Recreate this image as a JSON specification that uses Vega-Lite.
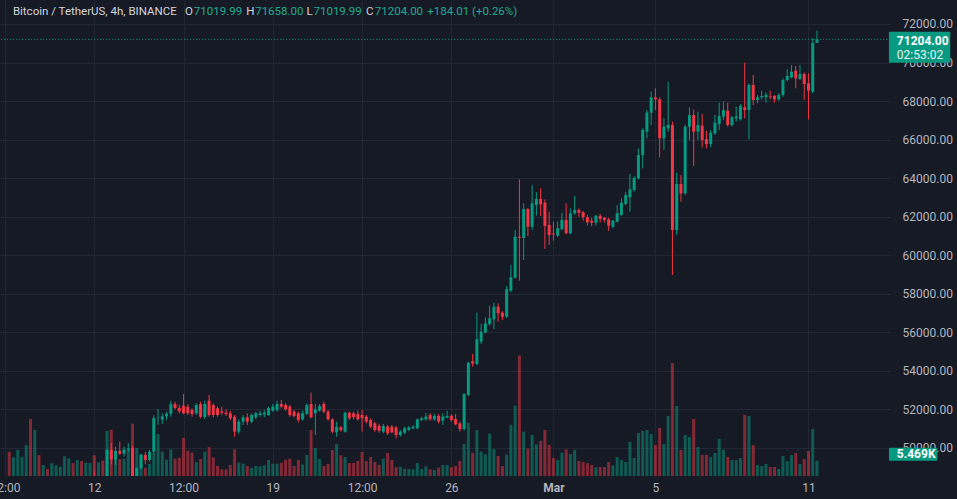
{
  "$schema": "https://vega.github.io/schema/vega-lite/v6.json",
  "width": 890,
  "height": 476,
  "autosize": {"type": "none"},
  "padding": {"left": 0, "top": 0, "right": 67, "bottom": 23},
  "background": "#161a25",
  "config": {"view": {"stroke": null}, "font": "Roboto"},
  "data": {"values": [
{"time":"2024-02-08T16:00","open":46100,"high":46250,"low":45650,"close":45800,"volume":8686},
{"time":"2024-02-08T20:00","open":45800,"high":46300,"low":45700,"close":46200,"volume":6684},
{"time":"2024-02-09T00:00","open":46200,"high":46900,"low":46100,"close":46800,"volume":9294},
{"time":"2024-02-09T04:00","open":46800,"high":47000,"low":46500,"close":46900,"volume":6899},
{"time":"2024-02-09T08:00","open":46900,"high":47600,"low":46800,"close":47500,"volume":11081},
{"time":"2024-02-09T12:00","open":47500,"high":48200,"low":46800,"close":47100,"volume":20375},
{"time":"2024-02-09T16:00","open":47100,"high":47800,"low":46900,"close":47600,"volume":16443},
{"time":"2024-02-09T20:00","open":47600,"high":47700,"low":47200,"close":47300,"volume":7399},
{"time":"2024-02-10T00:00","open":47300,"high":47600,"low":47200,"close":47500,"volume":3932},
{"time":"2024-02-10T04:00","open":47500,"high":47550,"low":47250,"close":47350,"volume":2502},
{"time":"2024-02-10T08:00","open":47350,"high":47700,"low":47300,"close":47600,"volume":4540},
{"time":"2024-02-10T12:00","open":47600,"high":47900,"low":47500,"close":47800,"volume":3825},
{"time":"2024-02-10T16:00","open":47800,"high":48000,"low":47650,"close":47900,"volume":3324},
{"time":"2024-02-10T20:00","open":47900,"high":48300,"low":47800,"close":48150,"volume":7042},
{"time":"2024-02-11T00:00","open":48150,"high":48450,"low":48000,"close":48300,"volume":6327},
{"time":"2024-02-11T04:00","open":48300,"high":48400,"low":47900,"close":48000,"volume":4647},
{"time":"2024-02-11T08:00","open":48000,"high":48350,"low":47900,"close":48250,"volume":5719},
{"time":"2024-02-11T12:00","open":48250,"high":48400,"low":47800,"close":47900,"volume":5362},
{"time":"2024-02-11T16:00","open":47900,"high":48200,"low":47700,"close":48100,"volume":4754},
{"time":"2024-02-11T20:00","open":48100,"high":48450,"low":48000,"close":48350,"volume":4647},
{"time":"2024-02-12T00:00","open":48350,"high":48780,"low":47700,"close":47950,"volume":7399},
{"time":"2024-02-12T04:00","open":47950,"high":48450,"low":47900,"close":48400,"volume":4897},
{"time":"2024-02-12T08:00","open":48400,"high":48500,"low":48100,"close":48300,"volume":5469},
{"time":"2024-02-12T12:00","open":48300,"high":49950,"low":48250,"close":49900,"volume":16193},
{"time":"2024-02-12T16:00","open":49900,"high":50250,"low":49150,"close":49400,"volume":16443},
{"time":"2024-02-12T20:00","open":49400,"high":50070,"low":49120,"close":49850,"volume":8937},
{"time":"2024-02-13T00:00","open":49850,"high":50330,"low":49640,"close":49700,"volume":6077},
{"time":"2024-02-13T04:00","open":49700,"high":50070,"low":49550,"close":49930,"volume":6184},
{"time":"2024-02-13T08:00","open":49930,"high":50250,"low":49800,"close":49990,"volume":9651},
{"time":"2024-02-13T12:00","open":49990,"high":50100,"low":48300,"close":48500,"volume":18695},
{"time":"2024-02-13T16:00","open":48500,"high":48980,"low":48350,"close":48950,"volume":10009},
{"time":"2024-02-13T20:00","open":48950,"high":49700,"low":48900,"close":49640,"volume":7757},
{"time":"2024-02-14T00:00","open":49640,"high":49800,"low":49150,"close":49380,"volume":2967},
{"time":"2024-02-14T04:00","open":49380,"high":49900,"low":49300,"close":49810,"volume":4397},
{"time":"2024-02-14T08:00","open":49810,"high":51700,"low":49700,"close":51556,"volume":8222},
{"time":"2024-02-14T12:00","open":51556,"high":52025,"low":51200,"close":51580,"volume":15013},
{"time":"2024-02-14T16:00","open":51480,"high":51800,"low":51250,"close":51640,"volume":8686},
{"time":"2024-02-14T20:00","open":51640,"high":51880,"low":51450,"close":51780,"volume":5827},
{"time":"2024-02-15T00:00","open":51780,"high":52450,"low":51620,"close":52280,"volume":9544},
{"time":"2024-02-15T04:00","open":52280,"high":52400,"low":52000,"close":52080,"volume":6184},
{"time":"2024-02-15T08:00","open":52080,"high":52250,"low":51800,"close":51900,"volume":6542},
{"time":"2024-02-15T12:00","open":52200,"high":52800,"low":51750,"close":51800,"volume":13583},
{"time":"2024-02-15T16:00","open":52145,"high":52283,"low":51713,"close":51799,"volume":9044},
{"time":"2024-02-15T20:00","open":51972,"high":52058,"low":51626,"close":51764,"volume":8329},
{"time":"2024-02-16T00:00","open":51799,"high":52318,"low":51713,"close":52232,"volume":5004},
{"time":"2024-02-16T04:00","open":52283,"high":52400,"low":51540,"close":51626,"volume":6077},
{"time":"2024-02-16T08:00","open":51600,"high":52456,"low":51500,"close":52283,"volume":8686},
{"time":"2024-02-16T12:00","open":52456,"high":52750,"low":51626,"close":51713,"volume":10366},
{"time":"2024-02-16T16:00","open":52232,"high":52318,"low":51590,"close":51713,"volume":6684},
{"time":"2024-02-16T20:00","open":52058,"high":52145,"low":51626,"close":51713,"volume":3575},
{"time":"2024-02-17T00:00","open":51907,"high":52145,"low":51713,"close":51834,"volume":2395},
{"time":"2024-02-17T04:00","open":51838,"high":52007,"low":51660,"close":51764,"volume":2395},
{"time":"2024-02-17T08:00","open":51800,"high":51937,"low":51453,"close":51540,"volume":3932},
{"time":"2024-02-17T12:00","open":51626,"high":51713,"low":50588,"close":50848,"volume":9544},
{"time":"2024-02-17T16:00","open":50848,"high":51488,"low":50727,"close":51367,"volume":4754},
{"time":"2024-02-17T20:00","open":51367,"high":51713,"low":51194,"close":51592,"volume":4397},
{"time":"2024-02-18T00:00","open":51592,"high":51799,"low":51194,"close":51367,"volume":3575},
{"time":"2024-02-18T04:00","open":51367,"high":51799,"low":51280,"close":51713,"volume":2860},
{"time":"2024-02-18T08:00","open":51600,"high":51885,"low":51488,"close":51799,"volume":3575},
{"time":"2024-02-18T12:00","open":51713,"high":51937,"low":51626,"close":51799,"volume":3467},
{"time":"2024-02-18T16:00","open":51730,"high":51972,"low":51592,"close":51833,"volume":3825},
{"time":"2024-02-18T20:00","open":51713,"high":52145,"low":51660,"close":52076,"volume":5719},
{"time":"2024-02-19T00:00","open":51937,"high":52283,"low":51868,"close":52145,"volume":4397},
{"time":"2024-02-19T04:00","open":51972,"high":52456,"low":51885,"close":52283,"volume":4397},
{"time":"2024-02-19T08:00","open":52283,"high":52491,"low":52058,"close":52145,"volume":4754},
{"time":"2024-02-19T12:00","open":52232,"high":52318,"low":51937,"close":52007,"volume":5827},
{"time":"2024-02-19T16:00","open":52145,"high":52232,"low":51626,"close":51713,"volume":6184},
{"time":"2024-02-19T20:00","open":51885,"high":51972,"low":51592,"close":51660,"volume":3575},
{"time":"2024-02-20T00:00","open":51799,"high":51885,"low":51315,"close":51453,"volume":5719},
{"time":"2024-02-20T04:00","open":51488,"high":51937,"low":51418,"close":51799,"volume":4111},
{"time":"2024-02-20T08:00","open":51764,"high":52318,"low":51713,"close":52232,"volume":7507},
{"time":"2024-02-20T12:00","open":52283,"high":52872,"low":51540,"close":51592,"volume":16443},
{"time":"2024-02-20T16:00","open":51799,"high":52283,"low":50675,"close":52007,"volume":10009},
{"time":"2024-02-20T20:00","open":51937,"high":52283,"low":51885,"close":52180,"volume":6077},
{"time":"2024-02-21T00:00","open":52283,"high":52405,"low":51799,"close":51886,"volume":3575},
{"time":"2024-02-21T04:00","open":51886,"high":51972,"low":51418,"close":51488,"volume":4290},
{"time":"2024-02-21T08:00","open":51488,"high":51540,"low":50761,"close":50848,"volume":9294},
{"time":"2024-02-21T12:00","open":50813,"high":51367,"low":50588,"close":51107,"volume":11439},
{"time":"2024-02-21T16:00","open":51073,"high":51142,"low":50848,"close":50934,"volume":7399},
{"time":"2024-02-21T20:00","open":50848,"high":51885,"low":50796,"close":51833,"volume":6792},
{"time":"2024-02-22T00:00","open":51833,"high":51885,"low":51453,"close":51540,"volume":4647},
{"time":"2024-02-22T04:00","open":51799,"high":51885,"low":51488,"close":51592,"volume":4647},
{"time":"2024-02-22T08:00","open":51760,"high":51937,"low":51418,"close":51488,"volume":5362},
{"time":"2024-02-22T12:00","open":51713,"high":51972,"low":50848,"close":51540,"volume":8579},
{"time":"2024-02-22T16:00","open":51626,"high":51713,"low":51280,"close":51367,"volume":5362},
{"time":"2024-02-22T20:00","open":51453,"high":51540,"low":51021,"close":51107,"volume":6792},
{"time":"2024-02-23T00:00","open":51280,"high":51367,"low":50848,"close":50934,"volume":5004},
{"time":"2024-02-23T04:00","open":51142,"high":51246,"low":50796,"close":50900,"volume":3932},
{"time":"2024-02-23T08:00","open":50848,"high":51246,"low":50761,"close":51142,"volume":6184},
{"time":"2024-02-23T12:00","open":51107,"high":51194,"low":50675,"close":50761,"volume":8222},
{"time":"2024-02-23T16:00","open":51107,"high":51194,"low":50761,"close":50813,"volume":5719},
{"time":"2024-02-23T20:00","open":51056,"high":51142,"low":50502,"close":50675,"volume":3110},
{"time":"2024-02-24T00:00","open":50675,"high":50934,"low":50588,"close":50848,"volume":3324},
{"time":"2024-02-24T04:00","open":50796,"high":51107,"low":50727,"close":51021,"volume":2609},
{"time":"2024-02-24T08:00","open":50934,"high":51142,"low":50865,"close":51073,"volume":2502},
{"time":"2024-02-24T12:00","open":51021,"high":51194,"low":50969,"close":51107,"volume":2395},
{"time":"2024-02-24T16:00","open":51021,"high":51540,"low":50969,"close":51488,"volume":4647},
{"time":"2024-02-24T20:00","open":51453,"high":51626,"low":51384,"close":51540,"volume":2502},
{"time":"2024-02-25T00:00","open":51488,"high":51799,"low":51418,"close":51626,"volume":3467},
{"time":"2024-02-25T04:00","open":51713,"high":51799,"low":51418,"close":51488,"volume":2395},
{"time":"2024-02-25T08:00","open":51488,"high":51764,"low":51418,"close":51660,"volume":2145},
{"time":"2024-02-25T12:00","open":51660,"high":51764,"low":51280,"close":51367,"volume":2967},
{"time":"2024-02-25T16:00","open":51420,"high":51800,"low":51194,"close":51630,"volume":3932},
{"time":"2024-02-25T20:00","open":51573,"high":51935,"low":51540,"close":51660,"volume":3932},
{"time":"2024-02-26T00:00","open":51677,"high":51750,"low":51366,"close":51453,"volume":3110},
{"time":"2024-02-26T04:00","open":51505,"high":51765,"low":51176,"close":51228,"volume":3575},
{"time":"2024-02-26T08:00","open":51280,"high":51366,"low":50846,"close":50985,"volume":5362},
{"time":"2024-02-26T12:00","open":50985,"high":52840,"low":50900,"close":52800,"volume":11439},
{"time":"2024-02-26T16:00","open":52750,"high":54478,"low":52700,"close":54426,"volume":19053},
{"time":"2024-02-26T20:00","open":54500,"high":54878,"low":54218,"close":54380,"volume":8329},
{"time":"2024-02-27T00:00","open":54360,"high":57020,"low":54300,"close":55640,"volume":16443},
{"time":"2024-02-27T04:00","open":55516,"high":56435,"low":55400,"close":56035,"volume":8686},
{"time":"2024-02-27T08:00","open":55990,"high":56780,"low":55950,"close":56470,"volume":7757},
{"time":"2024-02-27T12:00","open":56435,"high":57384,"low":56350,"close":56730,"volume":15121},
{"time":"2024-02-27T16:00","open":56680,"high":57540,"low":56160,"close":57330,"volume":9651},
{"time":"2024-02-27T20:00","open":57330,"high":57500,"low":56554,"close":56990,"volume":7149},
{"time":"2024-02-28T00:00","open":57020,"high":57100,"low":56640,"close":56810,"volume":3575},
{"time":"2024-02-28T04:00","open":56810,"high":58400,"low":56750,"close":58235,"volume":7614},
{"time":"2024-02-28T08:00","open":58160,"high":59495,"low":58100,"close":58858,"volume":18230},
{"time":"2024-02-28T12:00","open":58836,"high":61312,"low":58800,"close":60965,"volume":25130},
{"time":"2024-02-28T16:00","open":60960,"high":63940,"low":58680,"close":60900,"volume":43002},
{"time":"2024-02-28T20:00","open":60900,"high":62697,"low":59755,"close":62400,"volume":15835},
{"time":"2024-02-29T00:00","open":62400,"high":62450,"low":61000,"close":61483,"volume":9759},
{"time":"2024-02-29T04:00","open":61483,"high":63646,"low":61312,"close":62697,"volume":14656},
{"time":"2024-02-29T08:00","open":62610,"high":63267,"low":62050,"close":62920,"volume":11331},
{"time":"2024-02-29T12:00","open":62920,"high":63475,"low":62038,"close":62645,"volume":12511},
{"time":"2024-02-29T16:00","open":62730,"high":62900,"low":60326,"close":61518,"volume":16443},
{"time":"2024-02-29T20:00","open":61571,"high":62262,"low":60533,"close":61052,"volume":11081},
{"time":"2024-03-01T00:00","open":61130,"high":61743,"low":60756,"close":61080,"volume":6434},
{"time":"2024-03-01T04:00","open":61017,"high":61750,"low":60950,"close":61400,"volume":5719},
{"time":"2024-03-01T08:00","open":61350,"high":62210,"low":61300,"close":61830,"volume":8329},
{"time":"2024-03-01T12:00","open":61830,"high":62697,"low":61100,"close":61140,"volume":9544},
{"time":"2024-03-01T16:00","open":61140,"high":62437,"low":61100,"close":62178,"volume":7864},
{"time":"2024-03-01T20:00","open":62178,"high":63075,"low":62100,"close":62350,"volume":9294},
{"time":"2024-03-02T00:00","open":62350,"high":62437,"low":62000,"close":62210,"volume":5362},
{"time":"2024-03-02T04:00","open":62230,"high":62300,"low":61800,"close":61970,"volume":5004},
{"time":"2024-03-02T08:00","open":61970,"high":62090,"low":61540,"close":61710,"volume":4540},
{"time":"2024-03-02T12:00","open":61795,"high":61950,"low":61500,"close":61690,"volume":3932},
{"time":"2024-03-02T16:00","open":61690,"high":62090,"low":61540,"close":62050,"volume":3110},
{"time":"2024-03-02T20:00","open":62050,"high":62140,"low":61710,"close":61880,"volume":3217},
{"time":"2024-03-03T00:00","open":61950,"high":61990,"low":61710,"close":61830,"volume":3217},
{"time":"2024-03-03T04:00","open":61870,"high":61950,"low":61260,"close":61535,"volume":5004},
{"time":"2024-03-03T08:00","open":61483,"high":61830,"low":61400,"close":61795,"volume":3753},
{"time":"2024-03-03T12:00","open":61743,"high":62609,"low":61700,"close":62178,"volume":6792},
{"time":"2024-03-03T16:00","open":62090,"high":62955,"low":62050,"close":62730,"volume":5719},
{"time":"2024-03-03T20:00","open":62660,"high":63300,"low":62609,"close":63127,"volume":5004},
{"time":"2024-03-04T00:00","open":63008,"high":64217,"low":62262,"close":63423,"volume":12154},
{"time":"2024-03-04T04:00","open":63387,"high":64100,"low":63300,"close":64010,"volume":6434},
{"time":"2024-03-04T08:00","open":63990,"high":65547,"low":63939,"close":65202,"volume":15371},
{"time":"2024-03-04T12:00","open":65202,"high":66586,"low":64510,"close":66499,"volume":16086},
{"time":"2024-03-04T16:00","open":66413,"high":67537,"low":66066,"close":67398,"volume":16443},
{"time":"2024-03-04T20:00","open":67398,"high":68488,"low":66759,"close":68194,"volume":15013},
{"time":"2024-03-05T00:00","open":68194,"high":68661,"low":67537,"close":68090,"volume":11081},
{"time":"2024-03-05T04:00","open":68090,"high":68194,"low":65080,"close":66066,"volume":17158},
{"time":"2024-03-05T08:00","open":66066,"high":67105,"low":65461,"close":66672,"volume":11439},
{"time":"2024-03-05T12:00","open":66586,"high":69008,"low":66413,"close":66759,"volume":21448},
{"time":"2024-03-05T16:00","open":66759,"high":66932,"low":58974,"close":61309,"volume":40393},
{"time":"2024-03-05T20:00","open":61309,"high":64284,"low":61050,"close":63696,"volume":25022},
{"time":"2024-03-06T00:00","open":63696,"high":64164,"low":62780,"close":63212,"volume":9294},
{"time":"2024-03-06T04:00","open":63212,"high":66759,"low":63126,"close":66672,"volume":14656},
{"time":"2024-03-06T08:00","open":66672,"high":67675,"low":65980,"close":67278,"volume":13941},
{"time":"2024-03-06T12:00","open":67278,"high":67572,"low":64631,"close":66413,"volume":20375},
{"time":"2024-03-06T16:00","open":66413,"high":67451,"low":65980,"close":66759,"volume":10366},
{"time":"2024-03-06T20:00","open":66725,"high":67330,"low":65600,"close":65980,"volume":7507},
{"time":"2024-03-07T00:00","open":66032,"high":66465,"low":65547,"close":65772,"volume":7507},
{"time":"2024-03-07T04:00","open":65772,"high":66499,"low":65600,"close":66360,"volume":6792},
{"time":"2024-03-07T08:00","open":66326,"high":67278,"low":66240,"close":66880,"volume":8222},
{"time":"2024-03-07T12:00","open":66811,"high":67918,"low":66499,"close":67225,"volume":13226},
{"time":"2024-03-07T16:00","open":67191,"high":67970,"low":67018,"close":67537,"volume":9401},
{"time":"2024-03-07T20:00","open":67503,"high":67918,"low":66672,"close":66759,"volume":6792},
{"time":"2024-03-08T00:00","open":66759,"high":67226,"low":66672,"close":67157,"volume":5719},
{"time":"2024-03-08T04:00","open":67100,"high":67710,"low":66932,"close":67200,"volume":5719},
{"time":"2024-03-08T08:00","open":67061,"high":67848,"low":66984,"close":67745,"volume":6434},
{"time":"2024-03-08T12:00","open":67675,"high":69994,"low":67105,"close":67537,"volume":21805},
{"time":"2024-03-08T16:00","open":67537,"high":68921,"low":66015,"close":68834,"volume":21448},
{"time":"2024-03-08T20:00","open":68834,"high":69354,"low":67796,"close":68056,"volume":11081},
{"time":"2024-03-09T00:00","open":68056,"high":68315,"low":67883,"close":68194,"volume":3932},
{"time":"2024-03-09T04:00","open":68194,"high":68540,"low":68090,"close":68264,"volume":3575},
{"time":"2024-03-09T08:00","open":68200,"high":68453,"low":67918,"close":68315,"volume":4290},
{"time":"2024-03-09T12:00","open":68264,"high":68540,"low":68090,"close":68230,"volume":3217},
{"time":"2024-03-09T16:00","open":68264,"high":68315,"low":67918,"close":68090,"volume":3217},
{"time":"2024-03-09T20:00","open":68090,"high":68402,"low":68021,"close":68315,"volume":2502},
{"time":"2024-03-10T00:00","open":68315,"high":69180,"low":68229,"close":69094,"volume":7149},
{"time":"2024-03-10T04:00","open":69094,"high":69648,"low":69008,"close":69302,"volume":5362},
{"time":"2024-03-10T08:00","open":69232,"high":69873,"low":69180,"close":69527,"volume":7507},
{"time":"2024-03-10T12:00","open":69578,"high":69820,"low":68661,"close":69180,"volume":8222},
{"time":"2024-03-10T16:00","open":69146,"high":69873,"low":69094,"close":69405,"volume":4290},
{"time":"2024-03-10T20:00","open":69405,"high":69475,"low":68056,"close":68886,"volume":6077},
{"time":"2024-03-11T00:00","open":68921,"high":69440,"low":67053,"close":68540,"volume":8937},
{"time":"2024-03-11T04:00","open":68489,"high":71256,"low":68402,"close":71019.99,"volume":16801},
{"time":"2024-03-11T08:00","open":71019.99,"high":71658,"low":71019.99,"close":71204,"volume":5469}
  ]},
  "layer": [
    {
      "mark": {"type": "bar", "size": 3, "opacity": 0.5, "clip": true},
      "encoding": {
        "x": {"field": "time", "type": "temporal",
          "scale": {"domain": [{"year": 2024, "month": 2, "date": 8, "hours": 12}, {"year": 2024, "month": 3, "date": 14, "hours": 0}], "nice": false},
          "axis": {
            "values": [
              {"year": 2024, "month": 2, "date": 8, "hours": 12},
              {"year": 2024, "month": 2, "date": 12},
              {"year": 2024, "month": 2, "date": 15, "hours": 12},
              {"year": 2024, "month": 2, "date": 19},
              {"year": 2024, "month": 2, "date": 22, "hours": 12},
              {"year": 2024, "month": 2, "date": 26},
              {"year": 2024, "month": 3, "date": 1},
              {"year": 2024, "month": 3, "date": 5},
              {"year": 2024, "month": 3, "date": 11}
            ],
            "labelExpr": "hours(datum.value) == 12 ? '12:00' : (month(datum.value) == 2 && date(datum.value) == 1 ? 'Mar' : '' + date(datum.value))",
            "grid": true, "gridColor": "#232733", "gridWidth": 1,
            "domain": false, "ticks": false,
            "labelPadding": 6, "labelColor": "#b2b5be", "labelFont": "Roboto", "labelFontSize": 12,
            "labelFlush": false, "labelOverlap": false, "title": null,
            "labelFontWeight": {"condition": {"test": "month(datum.value) == 2 && date(datum.value) == 1", "value": "bold"}, "value": "normal"}
          }
        },
        "y": {"field": "volume", "type": "quantitative", "scale": {"domain": [0, 170150], "nice": false, "zero": true}, "axis": null},
        "color": {"condition": {"test": "datum.close >= datum.open", "value": "#089981"}, "value": "#f23645"}
      }
    },
    {
      "layer": [
        {
          "mark": {"type": "rule", "strokeWidth": 1, "clip": true},
          "encoding": {
            "x": {"field": "time", "type": "temporal"},
            "y": {"field": "low", "type": "quantitative",
              "scale": {"domain": [48547, 73245], "nice": false, "zero": false},
              "axis": {
                "orient": "right",
                "values": [50000, 52000, 54000, 56000, 58000, 60000, 62000, 64000, 66000, 68000, 70000, 72000],
                "format": ".2f", "grid": true, "gridColor": "#232733", "gridWidth": 1,
                "domain": false, "ticks": false, "labelPadding": 12,
                "labelColor": "#b2b5be", "labelFont": "Roboto", "labelFontSize": 12, "title": null
              }
            },
            "y2": {"field": "high"},
            "color": {"condition": {"test": "datum.close >= datum.open", "value": "#089981"}, "value": "#f23645"}
          }
        },
        {
          "mark": {"type": "bar", "size": 3, "clip": true},
          "encoding": {
            "x": {"field": "time", "type": "temporal"},
            "y": {"field": "open", "type": "quantitative"},
            "y2": {"field": "close"},
            "color": {"condition": {"test": "datum.close >= datum.open", "value": "#089981"}, "value": "#f23645"}
          }
        },
        {
          "data": {"values": [{}]},
          "mark": {"type": "rule", "color": "#089981", "strokeWidth": 1, "strokeDash": [1, 2]},
          "encoding": {"y": {"datum": 71204}}
        },
        {
          "data": {"values": [{}]},
          "mark": {"type": "text", "align": "left", "baseline": "alphabetic", "font": "Roboto", "fontSize": 11.5, "color": "#d1d4dc"},
          "encoding": {"x": {"datum": {"year": 2024, "month": 2, "date": 8, "hours": 19, "minutes": 26}, "type": "temporal"}, "y": {"datum": 72467}, "text": {"value": "Bitcoin / TetherUS, 4h, BINANCE"}}
        },
        {
          "data": {"values": [{}]},
          "mark": {"type": "text", "align": "left", "baseline": "alphabetic", "font": "Roboto", "fontSize": 11.5, "color": "#d1d4dc"},
          "encoding": {"x": {"datum": {"year": 2024, "month": 2, "date": 15, "hours": 13, "minutes": 19}, "type": "temporal"}, "y": {"datum": 72467}, "text": {"value": "O"}}
        },
        {
          "data": {"values": [{}]},
          "mark": {"type": "text", "align": "left", "baseline": "alphabetic", "font": "Roboto", "fontSize": 11.5, "color": "#22ab94"},
          "encoding": {"x": {"datum": {"year": 2024, "month": 2, "date": 15, "hours": 21, "minutes": 41}, "type": "temporal"}, "y": {"datum": 72467}, "text": {"value": "71019.99"}}
        },
        {
          "data": {"values": [{}]},
          "mark": {"type": "text", "align": "left", "baseline": "alphabetic", "font": "Roboto", "fontSize": 11.5, "color": "#d1d4dc"},
          "encoding": {"x": {"datum": {"year": 2024, "month": 2, "date": 17, "hours": 23, "minutes": 0}, "type": "temporal"}, "y": {"datum": 72467}, "text": {"value": "H"}}
        },
        {
          "data": {"values": [{}]},
          "mark": {"type": "text", "align": "left", "baseline": "alphabetic", "font": "Roboto", "fontSize": 11.5, "color": "#22ab94"},
          "encoding": {"x": {"datum": {"year": 2024, "month": 2, "date": 18, "hours": 7, "minutes": 23}, "type": "temporal"}, "y": {"datum": 72467}, "text": {"value": "71658.00"}}
        },
        {
          "data": {"values": [{}]},
          "mark": {"type": "text", "align": "left", "baseline": "alphabetic", "font": "Roboto", "fontSize": 11.5, "color": "#d1d4dc"},
          "encoding": {"x": {"datum": {"year": 2024, "month": 2, "date": 20, "hours": 7, "minutes": 45}, "type": "temporal"}, "y": {"datum": 72467}, "text": {"value": "L"}}
        },
        {
          "data": {"values": [{}]},
          "mark": {"type": "text", "align": "left", "baseline": "alphabetic", "font": "Roboto", "fontSize": 11.5, "color": "#22ab94"},
          "encoding": {"x": {"datum": {"year": 2024, "month": 2, "date": 20, "hours": 14, "minutes": 16}, "type": "temporal"}, "y": {"datum": 72467}, "text": {"value": "71019.99"}}
        },
        {
          "data": {"values": [{}]},
          "mark": {"type": "text", "align": "left", "baseline": "alphabetic", "font": "Roboto", "fontSize": 11.5, "color": "#d1d4dc"},
          "encoding": {"x": {"datum": {"year": 2024, "month": 2, "date": 22, "hours": 15, "minutes": 34}, "type": "temporal"}, "y": {"datum": 72467}, "text": {"value": "C"}}
        },
        {
          "data": {"values": [{}]},
          "mark": {"type": "text", "align": "left", "baseline": "alphabetic", "font": "Roboto", "fontSize": 11.5, "color": "#22ab94"},
          "encoding": {"x": {"datum": {"year": 2024, "month": 2, "date": 22, "hours": 23, "minutes": 57}, "type": "temporal"}, "y": {"datum": 72467}, "text": {"value": "71204.00"}}
        },
        {
          "data": {"values": [{}]},
          "mark": {"type": "text", "align": "left", "baseline": "alphabetic", "font": "Roboto", "fontSize": 11.5, "color": "#22ab94"},
          "encoding": {"x": {"datum": {"year": 2024, "month": 2, "date": 25, "hours": 1, "minutes": 16}, "type": "temporal"}, "y": {"datum": 72467}, "text": {"value": "+184.01 (+0.26%)"}}
        },
        {
          "data": {"values": [{}]},
          "mark": {"type": "rect", "color": "#089981", "cornerRadius": 1},
          "encoding": {
            "x": {"datum": {"year": 2024, "month": 3, "date": 14, "hours": 3, "minutes": 43}, "type": "temporal"},
            "x2": {"datum": {"year": 2024, "month": 3, "date": 16, "hours": 13, "minutes": 24}},
            "y": {"datum": 71600}, "y2": {"datum": 69992}
          }
        },
        {
          "data": {"values": [{}]},
          "mark": {"type": "text", "align": "left", "baseline": "middle", "font": "Roboto", "fontSize": 12, "fontWeight": "bold", "color": "#ffffff"},
          "encoding": {"x": {"datum": {"year": 2024, "month": 3, "date": 14, "hours": 11, "minutes": 10}, "type": "temporal"}, "y": {"datum": 71128}, "text": {"value": "71204.00"}}
        },
        {
          "data": {"values": [{}]},
          "mark": {"type": "text", "align": "left", "baseline": "middle", "font": "Roboto", "fontSize": 12, "color": "#e6f4f1"},
          "encoding": {"x": {"datum": {"year": 2024, "month": 3, "date": 14, "hours": 11, "minutes": 10}, "type": "temporal"}, "y": {"datum": 70417}, "text": {"value": "02:53:02"}}
        },
        {
          "data": {"values": [{}]},
          "mark": {"type": "rect", "color": "#089981", "cornerRadius": 1},
          "encoding": {
            "x": {"datum": {"year": 2024, "month": 3, "date": 14, "hours": 3, "minutes": 43}, "type": "temporal"},
            "x2": {"datum": {"year": 2024, "month": 3, "date": 16, "hours": 1, "minutes": 18}},
            "y": {"datum": 50017}, "y2": {"datum": 49343}
          }
        },
        {
          "data": {"values": [{}]},
          "mark": {"type": "text", "align": "left", "baseline": "middle", "font": "Roboto", "fontSize": 12, "fontWeight": "bold", "color": "#ffffff"},
          "encoding": {"x": {"datum": {"year": 2024, "month": 3, "date": 14, "hours": 11, "minutes": 10}, "type": "temporal"}, "y": {"datum": 49689}, "text": {"value": "5.469K"}}
        }
      ]
    }
  ],
  "resolve": {"scale": {"y": "independent"}}
}
